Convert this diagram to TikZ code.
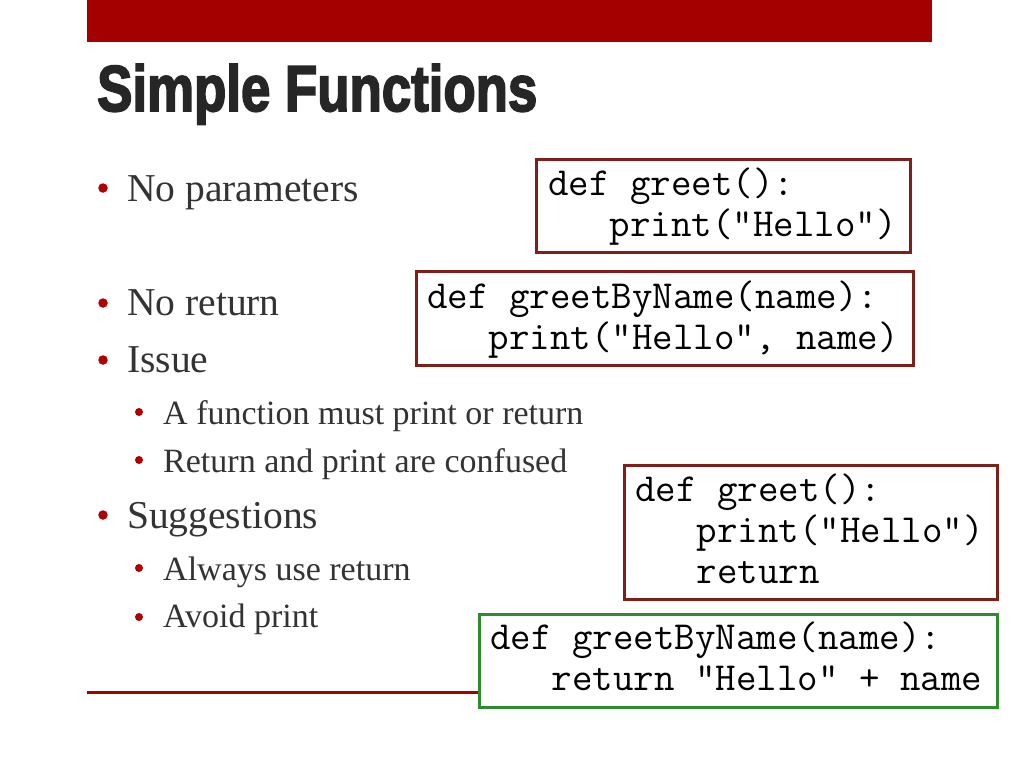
\documentclass[tikz,border=0pt]{standalone}
\usepackage{fontspec}
\setmainfont{Liberation Serif}
\newfontfamily\titlefont[FakeBold=3]{Liberation Sans Bold}
\definecolor{barred}{HTML}{A50000}
\definecolor{bulletred}{HTML}{B00000}
\definecolor{boxred}{HTML}{7F1F1A}
\definecolor{boxgreen}{HTML}{2E8B2E}
\definecolor{bodygray}{HTML}{333333}
\definecolor{titlegray}{HTML}{262626}
\tikzset{
  lvlone/.style={anchor=base west, inner sep=0pt, text=bodygray, font=\fontsize{39.5}{44}\selectfont},
  lvltwo/.style={anchor=base west, inner sep=0pt, text=bodygray, font=\fontsize{34}{40}\selectfont},
  dotone/.style={circle, fill=bulletred, inner sep=0pt, minimum size=9.5pt},
  dottwo/.style={circle, fill=bulletred, inner sep=0pt, minimum size=8pt},
  codebox/.style={draw=boxred, line width=2.5pt, anchor=north west, inner sep=0pt},
  greenbox/.style={codebox, draw=boxgreen},
  codetext/.style={anchor=base west, inner sep=0pt, text=black, font=\ttfamily\fontsize{39.8}{41}\selectfont}
}
\begin{document}
\begin{tikzpicture}[x=1pt,y=-1pt]
\useasboundingbox[fill=white] (0,0) rectangle (1024,768);
% top bar
\node[fill=barred, anchor=north west, inner sep=0pt, minimum width=845pt, minimum height=42pt] (bar) at (87,0) {};
% title
\node[anchor=base west, inner sep=0pt, text=titlegray] (title) at (97,111)
  {\resizebox{440pt}{47pt}{\titlefont Simple Functions}};
% bullets
\node[dotone] (d1) at (103,188) {};
\node[lvlone] (l1) at (127,201) {No parameters};
\node[dotone] (d2) at (103,303) {};
\node[lvlone] (l2) at (127,315) {No return};
\node[dotone] (d3) at (103,360) {};
\node[lvlone] (l3) at (127,372) {Issue};
\node[dottwo] (d4) at (139,412) {};
\node[lvltwo] (l4) at (163,424) {A function must print or return};
\node[dottwo] (d5) at (139,460) {};
\node[lvltwo] (l5) at (163,472) {Return and print are confused};
\node[dotone] (d6) at (103,515) {};
\node[lvlone] (l6) at (127,528) {Suggestions};
\node[dottwo] (d7) at (139,568) {};
\node[lvltwo] (l7) at (163,580) {Always use return};
\node[dottwo] (d8) at (139,617) {};
\node[lvltwo] (l8) at (163,627) {Avoid print};
% bottom line
\coordinate (lstart) at (87,692);
% code boxes
\node[codebox, minimum width=374pt, minimum height=93pt] (b1) at (535,158) {};
\node[codetext] (t1) at ([xshift=13pt,yshift=-37pt]b1.north west)
  {\begin{tabular}[t]{@{}l@{}}def greet():\\\ \ \ print("Hello")\end{tabular}};
\node[codebox, minimum width=497pt, minimum height=94pt] (b2) at (415,270) {};
\node[codetext] (t2) at ([xshift=12pt,yshift=-38pt]b2.north west)
  {\begin{tabular}[t]{@{}l@{}}def greetByName(name):\\\ \ \ print("Hello", name)\end{tabular}};
\node[codebox, minimum width=373pt, minimum height=134pt] (b3) at (623,464) {};
\node[codetext] (t3) at ([xshift=12pt,yshift=-37pt]b3.north west)
  {\begin{tabular}[t]{@{}l@{}}def greet():\\\ \ \ print("Hello")\\\ \ \ return\end{tabular}};
\draw[barred, line width=3pt] (lstart) -- (478,692);
\node[greenbox, minimum width=518pt, minimum height=93pt] (b4) at (478,613) {};
\node[codetext] (t4) at ([xshift=12pt,yshift=-36pt]b4.north west)
  {\begin{tabular}[t]{@{}l@{}}def greetByName(name):\\\ \ \ return "Hello" + name\end{tabular}};
\end{tikzpicture}
\end{document}
